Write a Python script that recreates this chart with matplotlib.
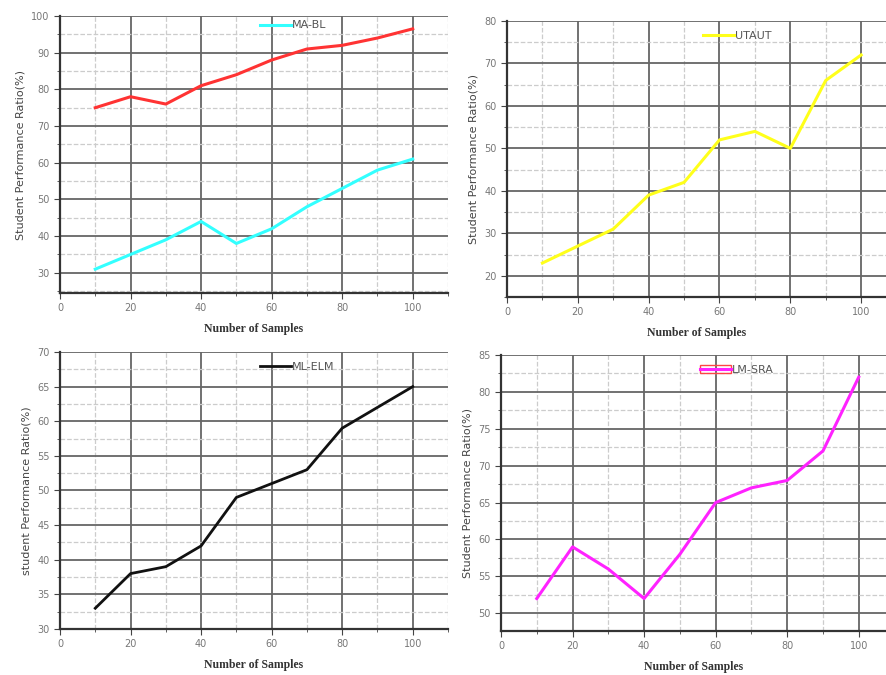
import numpy as np
import matplotlib
matplotlib.use("Agg")
import matplotlib.pyplot as plt
from matplotlib.lines import Line2D
from matplotlib.patches import Rectangle
from matplotlib.ticker import MultipleLocator

# data
samples = [10, 20, 30, 40, 50, 60, 70, 80, 90, 100]
ma_bl_upper = [75, 78, 76, 81, 84, 88, 91, 92, 94, 96.5]
ma_bl = [31, 35, 39, 44, 38, 42, 48, 53, 58, 61]
utaut = [23, 27, 31, 39, 42, 52, 54, 50, 66, 72]
ml_elm = [33, 38, 39, 42, 49, 51, 53, 59, 62, 65]
lm_sra = [52, 59, 56, 52, 58, 65, 67, 68, 72, 82]

tick_col = "#777777"


def style_axes(ax, xmax, ylim, ymajor, ylabel):
    ax.set_xlim(0, xmax)
    ax.set_ylim(*ylim)
    ax.xaxis.set_major_locator(MultipleLocator(20))
    ax.xaxis.set_minor_locator(MultipleLocator(10))
    ax.yaxis.set_major_locator(MultipleLocator(ymajor))
    ax.yaxis.set_minor_locator(MultipleLocator(ymajor / 2))
    ax.grid(True, which="major", color="#666666", linewidth=1.3)
    ax.grid(True, which="minor", color="#cccccc", linestyle="--", linewidth=0.9)
    ax.set_axisbelow(True)
    for s in ["top", "right"]:
        ax.spines[s].set_visible(False)
    for s in ["left", "bottom"]:
        ax.spines[s].set_color("#333333")
        ax.spines[s].set_linewidth(1.6)
    ax.tick_params(which="both", direction="out", colors="#444444",
                   labelcolor=tick_col, labelsize=7)
    ax.tick_params(which="major", length=4)
    ax.tick_params(which="minor", length=2.5)
    ax.set_xlabel("Number of Samples", family="Liberation Serif",
                  fontweight="bold", fontsize=8.5, color="#333333", labelpad=7)
    ax.set_ylabel(ylabel, fontsize=8, color="#444444", labelpad=4)


fig = plt.figure(figsize=(8.87, 6.75), dpi=100)

# top left
ax1 = fig.add_axes([60 / 887, 1 - 293 / 675, 388 / 887, 277 / 675])
ax1.plot(samples, ma_bl_upper, color="#ff3333", linewidth=2.2)
ax1.plot(samples, ma_bl, color="#33ffff", linewidth=2.2, label="MA-BL")
style_axes(ax1, 110, (24.5, 100), 10, "Student Performance Ratio(%)")
ax1.legend(loc="upper left", bbox_to_anchor=(0.49, 1.02), frameon=False,
           fontsize=8, handlelength=2.8, handletextpad=0.1,
           labelcolor="#555555")

# top right
ax2 = fig.add_axes([507 / 887, 1 - 297 / 675, 380 / 887, 276 / 675])
ax2.plot(samples, utaut, color="#ffff1a", linewidth=2.2, label="UTAUT")
style_axes(ax2, 107.3, (15, 80), 10, "Student Performance Ratio(%)")
ax2.legend(loc="upper left", bbox_to_anchor=(0.49, 1.0), frameon=False,
           fontsize=8, handlelength=2.8, handletextpad=0.1,
           labelcolor="#555555")

# bottom left
ax3 = fig.add_axes([60 / 887, 1 - 629 / 675, 388 / 887, 277 / 675])
ax3.plot(samples, ml_elm, color="#111111", linewidth=2.0, label="ML-ELM")
style_axes(ax3, 110, (30, 70), 5, "student Performance Ratio(%)")
ax3.legend(loc="upper left", bbox_to_anchor=(0.49, 1.0), frameon=False,
           fontsize=8, handlelength=2.8, handletextpad=0.1,
           labelcolor="#555555")

# bottom right
ax4 = fig.add_axes([501 / 887, 1 - 631 / 675, 386 / 887, 276 / 675])
ax4.plot(samples, lm_sra, color="#ff22ff", linewidth=2.2)
style_axes(ax4, 107.9, (47.6, 85), 5, "Student Performance Ratio(%)")
h_box = Rectangle((0, 0), 1, 1, facecolor="none", edgecolor="#ff4444", linewidth=1)
h_line = Line2D([], [], color="#ff22ff", linewidth=2.2)
ax4.legend([(h_box, h_line)], ["LM-SRA"], loc="upper left",
           bbox_to_anchor=(0.49, 1.0), frameon=False, fontsize=8,
           handlelength=2.8, handletextpad=0.1, labelcolor="#555555")

fig.savefig("out.png", dpi=100)
